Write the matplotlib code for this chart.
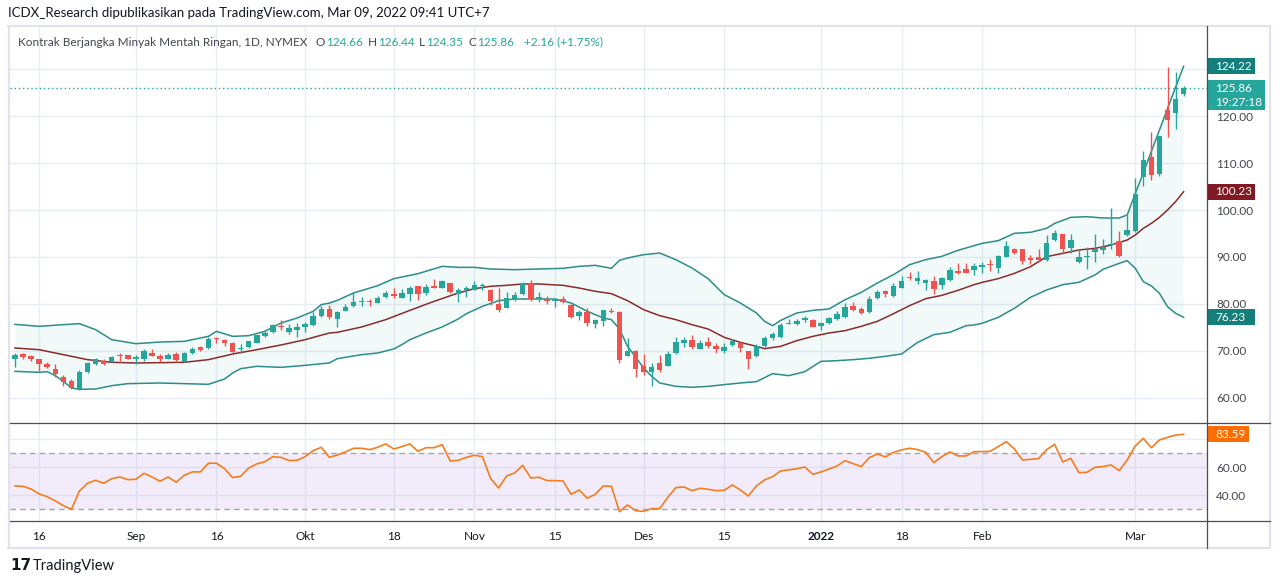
import numpy as np
import pandas as pd
import matplotlib
matplotlib.use("Agg")
import matplotlib.pyplot as plt
from matplotlib.lines import Line2D
from matplotlib.patches import Rectangle

plt.rcParams["font.family"] = ["Lato", "DejaVu Sans"]

# ── Data: NYMEX light crude, daily bars ──────────────────────
holidays = ["2021-09-06", "2021-11-25", "2021-12-24", "2022-01-17", "2022-02-21"]
dates = pd.bdate_range("2021-08-11", "2022-03-09", freq="C", holidays=holidays)

opens = [
    68.4, 69.4, 68.9, 68.2, 67.3, 66.2, 64.4, 63.7, 61.9, 65.5,
    67.3, 67.9, 67.7, 69.1, 69.1, 68.4, 68.3, 69.6, 69.0, 68.3,
    69.4, 67.7, 69.5, 70.9, 70.6, 72.7, 72.4, 71.8, 70.4, 70.8,
    71.8, 73.1, 74.0, 75.4, 74.0, 74.5, 75.0, 75.5, 77.4, 79.0,
    76.9, 78.6, 79.5, 80.4, 80.6, 80.3, 81.4, 82.1, 81.3, 82.2,
    83.8, 82.3, 83.9, 83.5, 84.4, 82.1, 82.9, 83.0, 83.8, 83.0,
    80.1, 79.2, 80.9, 82.1, 84.5, 81.1, 81.1, 80.7, 81.1, 79.7,
    77.4, 78.4, 75.7, 76.3, 78.5, 78.4, 69.0, 70.1, 66.9, 65.5,
    67.5, 66.9, 69.5, 71.6, 72.4, 70.5, 72.0, 71.1, 70.1, 71.2,
    71.8, 69.9, 69.0, 71.1, 72.8, 73.0, 75.8, 75.7, 76.5, 76.7,
    75.4, 75.9, 76.9, 77.2, 79.6, 78.9, 78.2, 81.2, 82.8, 81.6,
    83.5, 85.8, 84.8, 84.5, 84.9, 84.0, 85.0, 87.1, 87.5, 87.2,
    87.9, 88.5, 87.6, 90.1, 91.8, 91.6, 89.7, 90.0, 89.4, 93.6,
    94.8, 92.0, 88.9, 89.9, 91.0, 91.5, 92.5, 93.3, 94.7, 95.6,
    107.0, 111.3, 107.6, 121.3, 120.6, 124.66,
]
highs = [
    69.6, 69.6, 69.1, 68.3, 67.7, 67.2, 64.8, 64.0, 66.0, 67.7,
    68.6, 68.4, 68.9, 69.6, 69.2, 69.2, 70.5, 70.5, 69.4, 69.6,
    69.8, 69.8, 70.9, 71.1, 72.9, 72.9, 72.5, 71.9, 71.5, 72.2,
    73.4, 74.5, 75.7, 76.5, 75.8, 76.0, 76.2, 78.4, 79.5, 79.8,
    78.6, 80.0, 82.5, 81.5, 81.1, 81.8, 82.7, 83.3, 83.1, 83.8,
    83.9, 84.3, 85.4, 85.0, 84.5, 83.3, 83.8, 84.9, 84.4, 83.1,
    83.5, 82.5, 82.6, 84.7, 85.0, 82.5, 81.6, 81.2, 81.8, 80.0,
    78.8, 79.1, 76.9, 78.8, 79.1, 78.6, 72.8, 70.2, 69.4, 67.5,
    69.2, 70.1, 73.0, 73.0, 73.3, 72.4, 73.0, 71.8, 71.8, 72.6,
    72.0, 70.0, 71.5, 73.1, 74.0, 76.0, 76.9, 76.9, 77.4, 76.9,
    76.2, 77.2, 78.6, 80.2, 80.5, 79.4, 81.6, 83.0, 82.9, 84.5,
    86.0, 86.8, 87.1, 85.4, 86.0, 85.7, 87.9, 88.7, 88.8, 88.8,
    88.9, 89.6, 90.4, 93.3, 91.9, 91.8, 90.4, 91.7, 94.7, 95.7,
    95.0, 94.9, 91.7, 92.2, 95.0, 93.8, 100.5, 95.6, 98.9, 106.9,
    112.6, 116.7, 115.7, 130.5, 129.3, 126.44,
]
lows = [
    66.7, 68.4, 67.8, 65.7, 66.3, 64.5, 62.5, 62.0, 61.8, 65.4,
    67.0, 67.1, 67.6, 67.8, 68.2, 67.2, 67.8, 68.9, 67.6, 68.2,
    67.6, 67.6, 69.4, 70.0, 70.5, 71.6, 71.0, 69.5, 69.6, 70.7,
    71.7, 72.9, 73.9, 74.4, 73.7, 73.0, 74.1, 75.4, 77.3, 76.9,
    75.0, 78.5, 79.4, 79.5, 79.5, 80.2, 81.3, 81.2, 81.2, 80.7,
    80.8, 81.9, 83.4, 83.3, 82.3, 80.5, 81.5, 82.9, 83.0, 79.7,
    78.2, 79.1, 80.6, 82.0, 80.7, 80.4, 80.0, 79.3, 80.2, 77.0,
    76.5, 75.4, 74.8, 75.4, 78.1, 67.4, 68.9, 64.5, 64.9, 62.5,
    65.6, 66.8, 69.4, 70.9, 70.4, 70.4, 70.7, 69.6, 69.5, 71.0,
    69.7, 66.1, 68.7, 70.9, 72.3, 72.8, 75.7, 75.5, 76.2, 75.0,
    74.4, 75.8, 76.7, 77.0, 78.6, 77.8, 78.1, 81.1, 81.5, 81.5,
    83.4, 85.0, 84.3, 82.9, 82.1, 83.1, 84.9, 86.4, 86.6, 86.2,
    86.5, 87.0, 86.5, 89.9, 90.6, 88.5, 88.5, 89.0, 89.2, 93.3,
    90.6, 90.8, 88.7, 87.4, 89.0, 90.6, 91.6, 89.9, 94.5, 95.4,
    105.1, 106.4, 107.3, 115.6, 117.2, 124.35,
]
closes = [
    69.2, 68.8, 68.2, 67.2, 66.5, 65.0, 63.3, 62.1, 65.6, 67.5,
    68.4, 67.2, 68.8, 68.9, 68.4, 68.7, 70.0, 69.0, 68.2, 69.2,
    68.0, 69.6, 70.5, 70.3, 72.6, 72.5, 71.6, 69.8, 70.6, 72.1,
    73.3, 73.9, 75.5, 75.1, 74.8, 75.0, 75.8, 77.5, 79.0, 77.2,
    78.4, 79.4, 80.5, 80.6, 80.4, 81.3, 82.3, 81.6, 82.4, 83.5,
    82.2, 83.7, 83.5, 84.8, 82.5, 82.9, 83.5, 84.0, 84.0, 80.7,
    78.7, 81.3, 82.0, 84.4, 81.1, 81.5, 80.6, 80.9, 80.4, 77.3,
    78.4, 76.0, 76.7, 78.7, 78.2, 68.0, 69.9, 66.2, 65.5, 66.5,
    66.0, 69.4, 72.0, 72.4, 70.8, 71.6, 71.1, 70.5, 70.9, 72.1,
    70.6, 68.4, 71.1, 72.8, 73.7, 75.6, 76.0, 76.4, 77.0, 75.1,
    76.0, 77.0, 77.9, 79.4, 78.7, 78.0, 81.1, 82.6, 82.1, 83.9,
    84.8, 85.6, 85.6, 85.2, 83.1, 85.6, 87.3, 86.5, 86.7, 88.1,
    88.2, 88.2, 90.2, 92.3, 90.9, 89.2, 89.4, 89.4, 93.0, 95.2,
    91.6, 93.6, 89.9, 90.2, 91.8, 92.2, 92.8, 90.2, 95.8, 103.4,
    110.6, 107.4, 115.7, 119.1, 123.7, 125.86,
]

# Bollinger bands as drawn (own overlay scale), sampled at bar numbers
upper_bars = [0, 3, 6, 8, 10, 12, 15, 18, 21, 24, 25, 27, 29, 31, 33, 35, 37, 38, 39, 40,
              42, 45, 47, 50, 53, 55, 57, 59, 62, 65, 68, 70, 72, 74, 75, 76, 78, 80, 82, 84,
              86, 88, 90, 92, 93, 94, 95, 97, 99, 101, 103, 105, 107, 109, 111, 113, 115, 117,
              119, 120, 122, 124, 126, 128, 129, 131, 133, 135, 137, 138, 139, 140, 141, 142,
              143, 144, 145]
upper_vals = [75.67, 75.25, 75.6, 75.82, 74.54, 72.41, 71.56, 71.91, 72.06, 73.12, 74.19, 73.12,
              73.26, 74.19, 75.96, 77.02, 78.44, 79.86, 80.2, 80.78, 82.34, 83.9, 85.39, 86.45,
              88.01, 87.8, 87.8, 87.45, 87.3, 87.45, 87.59, 88.01, 88.23, 87.59, 89.29, 89.79,
              90.5, 90.85, 89.43, 87.66, 85.39, 81.99, 80.21, 78.09, 76.31, 75.39, 76.52, 78.09,
              78.65, 78.94, 80.92, 82.48, 84.47, 86.24, 88.37, 89.43, 90.14, 91.42, 92.41, 92.91,
              93.48, 95.04, 95.25, 96.1, 97.16, 98.44, 98.58, 98.3, 98.3, 98.94, 103.5, 107.9,
              112.5, 117.0, 121.6, 126.1, 130.6]
mid_bars = [0, 3, 6, 9, 12, 15, 18, 21, 24, 27, 30, 33, 36, 39, 40, 43, 46, 49, 52, 55, 57, 59,
            61, 63, 65, 68, 70, 72, 74, 76, 78, 80, 82, 84, 86, 88, 90, 92, 93, 95, 97, 99, 101,
            103, 105, 107, 109, 111, 113, 115, 117, 119, 120, 122, 124, 126, 128, 130, 132, 134,
            136, 138, 139, 140, 141, 142, 143, 144, 145]
mid_vals = [70.64, 70.28, 69.22, 68.16, 67.59, 67.45, 67.52, 67.59, 68.16, 69.36, 70.28, 71.28,
            72.41, 73.83, 73.97, 75.11, 76.67, 78.65, 80.57, 82.34, 83.26, 83.76, 83.97, 84.26,
            84.26, 83.97, 83.4, 82.7, 82.2, 80.71, 78.79, 77.52, 76.67, 75.6, 74.68, 72.91,
            71.84, 70.99, 70.5, 70.99, 72.2, 73.12, 73.83, 74.33, 75.25, 76.31, 77.94, 79.65,
            81.13, 81.84, 82.91, 84.11, 84.6, 85.4, 86.52, 87.94, 90.07, 90.78, 91.49, 91.84,
            92.55, 93.62, 94.68, 96.1, 97.16, 98.44, 100.0, 101.77, 103.9]
lower_bars = [0, 3, 4, 5, 6, 7, 8, 10, 12, 14, 18, 21, 24, 26, 27, 28, 30, 33, 36, 39, 40, 43,
              45, 47, 48, 49, 51, 53, 55, 56, 58, 60, 62, 67, 69, 71, 73, 74, 75, 76, 77, 78,
              79, 80, 82, 84, 86, 88, 90, 92, 94, 96, 98, 100, 102, 104, 106, 108, 110, 112,
              114, 116, 118, 119, 120, 122, 124, 126, 128, 130, 132, 134, 135, 137, 138, 139,
              140, 141, 142, 143, 144, 145]
lower_vals = [65.67, 65.46, 65.6, 64.75, 63.55, 62.13, 61.84, 61.91, 62.62, 63.05, 63.19, 63.05,
              62.91, 64.04, 65.32, 66.24, 66.74, 66.52, 66.95, 67.45, 68.37, 69.22, 69.57, 70.43,
              71.35, 72.41, 73.83, 75.11, 76.81, 77.94, 79.5, 80.71, 81.06, 81.06, 80.21, 78.44,
              77.02, 76.67, 74.68, 70.99, 68.72, 66.38, 64.61, 63.19, 62.48, 62.27, 62.48, 62.84,
              63.19, 63.48, 65.18, 64.75, 65.6, 67.8, 67.94, 68.16, 68.44, 68.87, 69.36, 71.84,
              73.48, 73.97, 75.39, 75.53, 75.89, 77.16, 79.08, 81.42, 82.98, 84.11, 84.61, 86.17,
              87.38, 88.65, 89.22, 87.59, 84.75, 83.83, 82.27, 79.43, 78.01, 77.16]
bb_labels = ["124.22", "100.23", "76.23"]

rsi = [
    46.7, 46.4, 44.5, 41.0, 39.0, 36.0, 32.6, 30.0, 43.1, 48.6,
    50.7, 48.6, 51.9, 53.1, 51.2, 51.4, 55.7, 53.1, 50.0, 53.1,
    49.3, 54.3, 56.7, 56.7, 62.9, 62.9, 59.0, 52.6, 53.6, 59.5,
    62.4, 64.0, 67.6, 67.1, 64.8, 65.0, 67.6, 71.9, 74.3, 67.1,
    68.8, 71.0, 73.6, 73.6, 72.6, 74.3, 76.7, 73.1, 74.8, 76.7,
    71.4, 74.0, 74.0, 76.2, 64.5, 65.0, 67.1, 68.6, 67.6, 52.1,
    45.2, 53.8, 56.0, 61.4, 52.4, 52.9, 50.5, 50.5, 50.2, 40.7,
    43.8, 37.9, 40.7, 46.7, 46.4, 28.3, 33.1, 29.0, 28.5, 30.5,
    30.5, 38.6, 45.5, 46.0, 43.3, 45.0, 44.3, 43.3, 43.6, 47.4,
    43.8, 39.5, 46.7, 51.0, 53.3, 57.4, 58.1, 59.0, 60.2, 55.0,
    56.7, 58.8, 61.0, 64.8, 62.6, 60.5, 66.9, 69.5, 67.4, 70.7,
    72.4, 73.6, 72.6, 70.7, 63.3, 67.6, 71.0, 68.1, 68.1, 71.2,
    71.2, 71.4, 74.8, 78.3, 73.1, 65.2, 65.7, 66.2, 72.6, 76.4,
    63.8, 66.4, 56.2, 56.4, 60.0, 60.5, 61.7, 57.6, 65.2, 75.2,
    80.7, 74.0, 79.5, 81.4, 83.0, 83.59,
]

tick_dates = ["2021-08-16", "2021-09-01", "2021-09-16", "2021-10-01", "2021-10-18",
              "2021-11-01", "2021-11-15", "2021-12-01", "2021-12-15", "2022-01-03",
              "2022-01-18", "2022-02-01", "2022-03-01"]
tick_labels = ["16", "Sep", "16", "Okt", "18", "Nov", "15", "Des", "15", "2022", "18", "Feb", "Mar"]
countdown = "19:27:18"

# ── Colours ───────────────────────────────────────────────
GREEN = "#26A69A"
RED = "#EF5350"
BAND = "#2C8D8A"
BASIS = "#8A2C2C"
BAND_TAG = "#137E7A"
BASIS_TAG = "#801922"
ORANGE = "#F57C1F"
GRID = "#E8EDF3"
TEXT = "#131722"
AXIS_TEXT = "#434651"
DARK = "#4A4E5A"
FRAME = "#E0E3EB"

# ── Figure geometry (pixels from top-left) ─────────────────
W, H = 1280, 584
LEFT, AXIS_X, RIGHT = 10, 1207, 1270
TOP, SEP, RSI_BOTTOM, BOTTOM = 26, 423, 521, 548


def fx(px):
    return px / W


def fy(py):
    return 1 - py / H


fig = plt.figure(figsize=(W / 100, H / 100), dpi=100)
fig.patch.set_facecolor("white")

ax = fig.add_axes([fx(LEFT), fy(SEP), fx(AXIS_X) - fx(LEFT), fy(TOP) - fy(SEP)])
ax_rsi = fig.add_axes([fx(LEFT), fy(RSI_BOTTOM), fx(AXIS_X) - fx(LEFT), fy(SEP) - fy(RSI_BOTTOM)])

x = np.arange(len(dates))
o, h, l, c = map(np.array, (opens, highs, lows, closes))
tick_pos = [dates.get_loc(pd.Timestamp(d)) for d in tick_dates]
xlim = (-0.62, 147.9)

# ── Price pane ──────────────────────────────────────────
ax.set_xlim(xlim)
ax.set_ylim(54.68, 139.15)
price_ticks = np.arange(60, 131, 10)
ax.set_yticks(price_ticks)
ax.set_yticklabels([f"{v:.2f}" if v <= 120 else "" for v in price_ticks])
ax.set_xticks(tick_pos)
ax.tick_params(axis="x", labelbottom=False, length=0)
ax.yaxis.tick_right()
ax.tick_params(axis="y", length=0, pad=6.5, labelsize=8.5, labelcolor=AXIS_TEXT)
ax.grid(True, color=GRID, lw=1, zorder=0)
ax.set_axisbelow(True)
for s in ax.spines.values():
    s.set_visible(False)

ax.fill(np.r_[upper_bars, lower_bars[::-1]], np.r_[upper_vals, lower_vals[::-1]],
        color=GREEN, alpha=0.06, lw=0, zorder=1)
ax.plot(upper_bars, upper_vals, color=BAND, lw=1.1, zorder=2)
ax.plot(lower_bars, lower_vals, color=BAND, lw=1.1, zorder=2)
ax.plot(mid_bars, mid_vals, color=BASIS, lw=1.1, zorder=2)

col = np.where(c >= o, GREEN, RED)
ax.vlines(x, l, h, colors=col, lw=1, zorder=3)
ax.bar(x, np.maximum(np.abs(c - o), 0.15), bottom=np.minimum(o, c), width=0.68,
       color=col, lw=0, zorder=4)
ax.axhline(c[-1], color=GREEN, lw=1, ls=(0, (1, 2)), zorder=5)

# ── RSI pane ────────────────────────────────────────────
ax_rsi.set_xlim(xlim)
ax_rsi.set_ylim(21.64, 91.64)
ax_rsi.set_yticks([40, 60, 80])
ax_rsi.set_yticklabels(["40.00", "60.00", ""])
ax_rsi.set_xticks(tick_pos)
ax_rsi.set_xticklabels(tick_labels)
ax_rsi.yaxis.tick_right()
ax_rsi.tick_params(axis="y", length=0, pad=6.5, labelsize=8.5, labelcolor=AXIS_TEXT)
ax_rsi.tick_params(axis="x", length=0, pad=7, labelsize=8.5, labelcolor=TEXT)
for lab in ax_rsi.get_xticklabels():
    if lab.get_text() == "2022":
        lab.set_fontweight("bold")
ax_rsi.grid(True, color=GRID, lw=1, zorder=0)
ax_rsi.set_axisbelow(True)
for s in ax_rsi.spines.values():
    s.set_visible(False)
ax_rsi.axhspan(30, 70, color="#9C6ADE", alpha=0.12, lw=0, zorder=1)
for lvl in (70, 30):
    ax_rsi.axhline(lvl, color="#A3A6AF", lw=1, ls=(0, (4, 3)), zorder=2)
ax_rsi.plot(x, rsi, color=ORANGE, lw=1.2, zorder=3)


# ── Value tags on the price scale ───────────────────────────
def tag(axis, value, text, color, width, height=16, top=None):
    yc = H - axis.transData.transform((0, value))[1]
    top_px = yc - height / 2 if top is None else top
    fig.add_artist(Rectangle((fx(AXIS_X), fy(top_px + height)), width / W, height / H,
                             transform=fig.transFigure, facecolor=color,
                             edgecolor="none", zorder=10))
    fig.text(fx(AXIS_X + 8), fy(top_px + height / 2), text, color="white", fontsize=8.5,
             va="center", ha="left", zorder=11, linespacing=1.35)


tag(ax, upper_vals[-1], bb_labels[0], BAND_TAG, 48)
tag(ax, mid_vals[-1], bb_labels[1], BASIS_TAG, 48)
tag(ax, lower_vals[-1], bb_labels[2], BAND_TAG, 48)
y_last = H - ax.transData.transform((0, c[-1]))[1]
tag(ax, c[-1], f"{c[-1]:.2f}\n{countdown}", GREEN, 58, height=30, top=y_last - 8)
tag(ax_rsi, rsi[-1], f"{rsi[-1]:.2f}", "#FF6D00", 42)

# ── Frame and separators ─────────────────────────────────
def fline(x0, y0, x1, y1, color, lw):
    fig.add_artist(Line2D([fx(x0), fx(x1)], [fy(y0), fy(y1)], transform=fig.transFigure,
                          color=color, lw=lw, zorder=12))


fline(8, TOP, RIGHT, TOP, FRAME, 1.5)
fline(8, BOTTOM, RIGHT, BOTTOM, FRAME, 1.5)
fline(9, TOP, 9, BOTTOM, FRAME, 1.5)
fline(RIGHT, TOP, RIGHT, BOTTOM, FRAME, 1.5)
fline(AXIS_X, TOP, AXIS_X, BOTTOM, DARK, 0.9)
fline(LEFT, SEP, RIGHT, SEP, DARK, 0.9)
fline(LEFT, RSI_BOTTOM, RIGHT, RSI_BOTTOM, DARK, 0.9)

# ── Header and legend texts ─────────────────────────────
fig.text(fx(8), fy(13), "ICDX_Research dipublikasikan pada TradingView.com, Mar 09, 2022 09:41 UTC+7",
         fontsize=9.5, color=TEXT, va="center")

change = c[-1] - c[-2]
legend = [
    ("Kontrak Berjangka Minyak Mentah Ringan, 1D, NYMEX", AXIS_TEXT, 8),
    ("O", AXIS_TEXT, 1), (f"{o[-1]:.2f}", GREEN, 5),
    ("H", AXIS_TEXT, 1), (f"{h[-1]:.2f}", GREEN, 5),
    ("L", AXIS_TEXT, 1), (f"{l[-1]:.2f}", GREEN, 5),
    ("C", AXIS_TEXT, 1), (f"{c[-1]:.2f}", GREEN, 10),
    (f"{change:+.2f} ({change / c[-2] * 100:+.2f}%)", GREEN, 0),
]
renderer = fig.canvas.get_renderer()
xpos = 18
for txt, colr, gap in legend:
    t = fig.text(fx(xpos), fy(42), txt, fontsize=8.5, color=colr, va="center")
    xpos += t.get_window_extent(renderer).width + gap

fig.text(fx(10), fy(566), "17", fontsize=11, fontweight="heavy", family="DejaVu Sans",
         color=TEXT, va="center")
fig.text(fx(33), fy(566), "TradingView", fontsize=10.5, color=TEXT, va="center")

fig.savefig("out.png", dpi=100, facecolor="white")
